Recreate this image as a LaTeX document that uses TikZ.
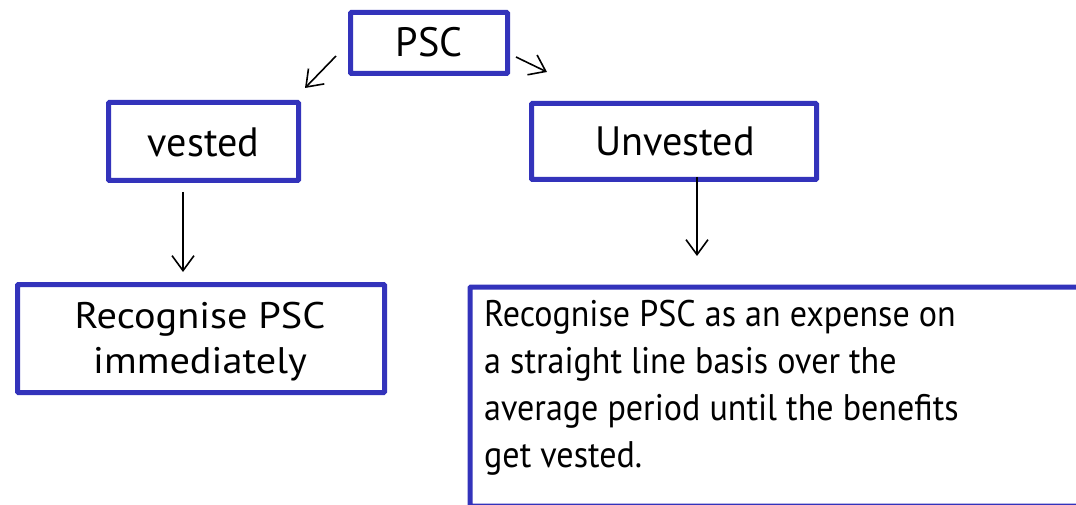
\documentclass[tikz,border=0pt]{standalone}
\usepackage{fontspec}
\setmainfont{PT Sans}[FakeStretch=0.98]
\newfontfamily\widefont{PT Sans}[FakeStretch=1.09]
\newfontfamily\narrowfont{PT Sans}[FakeStretch=0.92]
\usetikzlibrary{arrows.meta}
\definecolor{boxblue}{HTML}{3333BB}
\definecolor{lightblue}{HTML}{8888DD}
\tikzset{
  box/.style={draw=boxblue, line width=5pt, rounded corners=1pt, inner sep=0pt, align=center},
  arr/.style={draw=black, line width=1.6pt, -{Straight Barb[length=15pt,width=22pt,line width=1.6pt]}},
  lbl/.style={font=\fontsize{41}{46.7}\selectfont, inner sep=0pt},
  wtxt/.style={font=\widefont\fontsize{37}{45}\selectfont, inner sep=0pt},
  txt/.style={font=\narrowfont\fontsize{37}{46.7}\selectfont, inner sep=0pt}
}
\begin{document}
\begin{tikzpicture}[x=1pt,y=-1pt]
\useasboundingbox (0,0) rectangle (1076,505);
\clip (0,0) rectangle (1076,505);
\fill[white] (0,0) rectangle (1076,505);
% boxes
\node[box, minimum width=157pt, minimum height=61pt] (psc) at (429,43) {};
\node[lbl, anchor=base] (psct) at (429,57) {PSC};
\node[box, minimum width=190pt, minimum height=78pt] (vested) at (203.5,141.5) {};
\node[lbl, anchor=base] (vestedt) at (203.5,157) {vested};
\node[box, minimum width=285pt, minimum height=76pt] (unv) at (674,141.5) {};
\node[lbl, anchor=base] (unvt) at (675,156) {Unvested};
\node[box, minimum width=367pt, minimum height=108pt] (rec) at (201,338.5) {};
\node[wtxt, anchor=base, align=center] (rect) at (200,373) {Recognise PSC\\immediately};
% big box (cut by the frame)
\node[box, anchor=north west, minimum width=640pt, minimum height=219pt] (big) at (467.5,284.5) {};
\draw[lightblue, line width=2pt] (big.south west) -- (big.south east);
\node[txt, anchor=base west, align=left] (bigt) at (484,467) {Recognise PSC as an expense on\\a straight line basis over the\\average period until the benefits\\get vested.};
% arrows
\coordinate (p1) at (336,56);
\coordinate (p1e) at (305,88);
\coordinate (p2) at (516,57);
\coordinate (p2e) at (547,72);
\coordinate (v1) at (183,192);
\coordinate (v1e) at (183,272);
\coordinate (u1) at (697,177);
\coordinate (u1e) at (697,256);
\draw[arr] (p1) -- (p1e);
\draw[arr] (p2) -- (p2e);
\draw[arr] (v1) -- (v1e);
\draw[arr] (u1) -- (u1e);
\end{tikzpicture}
\end{document}
